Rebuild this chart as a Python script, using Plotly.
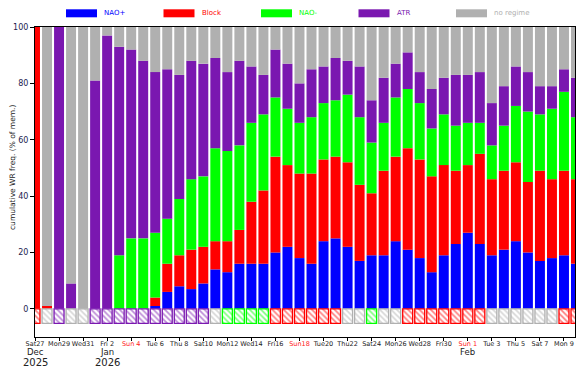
import pandas as pd
import plotly.graph_objects as go

# ---------------- data ----------------
dates = pd.date_range("2025-12-27", "2026-02-10", freq="D")

nao_plus = [0, 0, 0, 0, 0, 0, 0, 0, 0, 0, 1, 6, 8, 7, 9, 14, 13, 16, 16, 16, 20, 22, 18, 16, 24, 25,
            22, 17, 19, 19, 24, 21, 18, 13, 19, 23, 27, 23, 19, 21, 24, 20, 17, 18, 19, 16]
block = [100, 1, 0, 0, 0, 0, 0, 0, 0, 0, 3, 10, 11, 14, 13, 10, 11, 12, 22, 26, 34, 29, 30, 32, 29, 29,
         30, 27, 22, 30, 30, 36, 35, 34, 32, 26, 24, 32, 27, 28, 28, 25, 32, 28, 30, 30]
nao_minus = [0, 0, 0, 0, 0, 0, 0, 19, 25, 25, 23, 16, 20, 25, 25, 33, 32, 30, 28, 27, 21, 20, 18, 20, 20, 20,
             24, 24, 18, 17, 21, 21, 20, 17, 18, 16, 15, 11, 12, 16, 20, 25, 20, 25, 28, 22]
atr = [0, 0, 100, 9, 0, 81, 97, 74, 67, 63, 57, 53, 44, 42, 40, 32, 28, 30, 20, 14, 17, 16, 14, 17, 13, 15,
       12, 18, 15, 16, 12, 13, 11, 14, 13, 18, 17, 18, 15, 14, 14, 14, 10, 8, 8, 14]
no_regime = [0, 99, 0, 91, 100, 19, 3, 7, 8, 12, 16, 15, 17, 12, 13, 11, 16, 12, 14, 17, 8, 13, 20, 15, 14, 11,
             12, 14, 26, 18, 13, 9, 16, 22, 18, 17, 17, 16, 27, 21, 14, 16, 21, 21, 15, 18]

# dominant-regime marker per day
dominant = (["Block", "no regime", "ATR", "no regime", "no regime"] + ["ATR"] * 10 + ["no regime"]
            + ["NAO-"] * 4 + ["Block"] * 6 + ["no regime"] * 2 + ["NAO-"] + ["no regime"] * 2
            + ["Block"] * 7 + ["no regime"] * 6 + ["Block"] * 2)

tick_labels = ["Sat27", "Mon29", "Wed31", "Fri 2", "Sun 4", "Tue 6", "Thu 8", "Sat10", "Mon12", "Wed14",
               "Fri16", "Sun18", "Tue20", "Thu22", "Sat24", "Mon26", "Wed28", "Fri30", "Sun 1", "Tue 3",
               "Thu 5", "Sat 7", "Mon 9"]
month_labels = [("2025-12-27", "Dec", "2025"), ("2026-01-02", "Jan", "2026"), ("2026-02-01", "Feb", "")]

regimes = ["NAO+", "Block", "NAO-", "ATR", "no regime"]
series = [nao_plus, block, nao_minus, atr, no_regime]
colors = {"NAO+": "#0000ff", "Block": "#ff0000", "NAO-": "#00ff00", "ATR": "#7a17b0", "no regime": "#b0b0b0"}
marker_depth = [-5.2] * len(dates)

# ---------------- figure ----------------
fig = go.Figure()
for name, vals in zip(regimes, series):
    fig.add_trace(go.Bar(x=dates, y=vals, name=name, marker=dict(color=colors[name], line=dict(width=0)),
                         hoverinfo="skip"))

dom_colors = [colors[d] for d in dominant]
fig.add_trace(go.Bar(
    x=dates, y=marker_depth, name="dominant", hoverinfo="skip",
    marker=dict(color="white", line=dict(color=dom_colors, width=1.3),
                pattern=dict(shape="\\", fgcolor=dom_colors, bgcolor="white", size=4, solidity=0.45)),
))

W, H = 582, 369
L, R, T, B = 35, 7, 27, 32
pw, ph = W - L - R, H - T - B


def px_x(x):
    return (x - L) / pw


def px_y(y):
    return (H - B - y) / ph


shapes, annotations = [], []
for i, name in enumerate(regimes):
    x0 = 66 + i * 97.5
    shapes.append(dict(type="rect", xref="paper", yref="paper", x0=px_x(x0), x1=px_x(x0 + 31),
                       y0=px_y(17.3), y1=px_y(9.3), fillcolor=colors[name], line=dict(width=0)))
    annotations.append(dict(xref="paper", yref="paper", x=px_x(x0 + 36), y=px_y(13.3), text=name,
                            showarrow=False, xanchor="left", yanchor="middle",
                            font=dict(size=7, color=colors[name])))

for d, mon, yr in month_labels:
    annotations.append(dict(x=d, xref="x", yref="paper", y=px_y(352), text=mon, showarrow=False,
                            yanchor="middle", font=dict(size=8.5, color="#222")))
    if yr:
        annotations.append(dict(x=d, xref="x", yref="paper", y=px_y(362), text=yr, showarrow=False,
                                yanchor="middle", font=dict(size=10, color="#222")))

annotations.append(dict(xref="paper", yref="paper", x=px_x(12), y=px_y(168), text="cumulative WR freq. (% of mem.)",
                        textangle=-90, showarrow=False, xanchor="center", yanchor="middle",
                        font=dict(size=7.5, color="#222")))

tick_vals = list(dates[::2])
tick_text = [f'<span style="color:#ff2020">{t}</span>' if t.startswith("Sun") else t for t in tick_labels]

fig.update_layout(
    width=W, height=H, margin=dict(l=L, r=R, t=T, b=B, autoexpand=False),
    barmode="relative", bargap=0.17, showlegend=False, hovermode=False,
    plot_bgcolor="white", paper_bgcolor="white",
    font=dict(family="DejaVu Sans", color="#222"),
    shapes=shapes, annotations=annotations,
)
fig.update_xaxes(
    automargin=False,
    range=[dates[0], pd.Timestamp("2026-02-09 22:00")],
    tickvals=tick_vals, ticktext=tick_text, tickangle=0, ticklabelstandoff=-3,
    tickfont=dict(size=6.5, color="#222"), ticks="outside", ticklen=3, tickcolor="black",
    showline=True, linecolor="black", linewidth=1, mirror=True, showgrid=False, zeroline=False,
)
fig.update_yaxes(
    automargin=False,
    range=[-10, 100], tickvals=[0, 20, 40, 60, 80, 100],
    tickfont=dict(size=8, color="#222250"), ticks="outside", ticklen=4, tickcolor="black",
    showline=True, linecolor="black", linewidth=1, mirror=True, showgrid=False, zeroline=False,
)

fig.write_html("out.html", config={"displayModeBar": False, "staticPlot": True},
               post_script="document.body.style.margin='0';document.body.style.overflow='hidden';")
